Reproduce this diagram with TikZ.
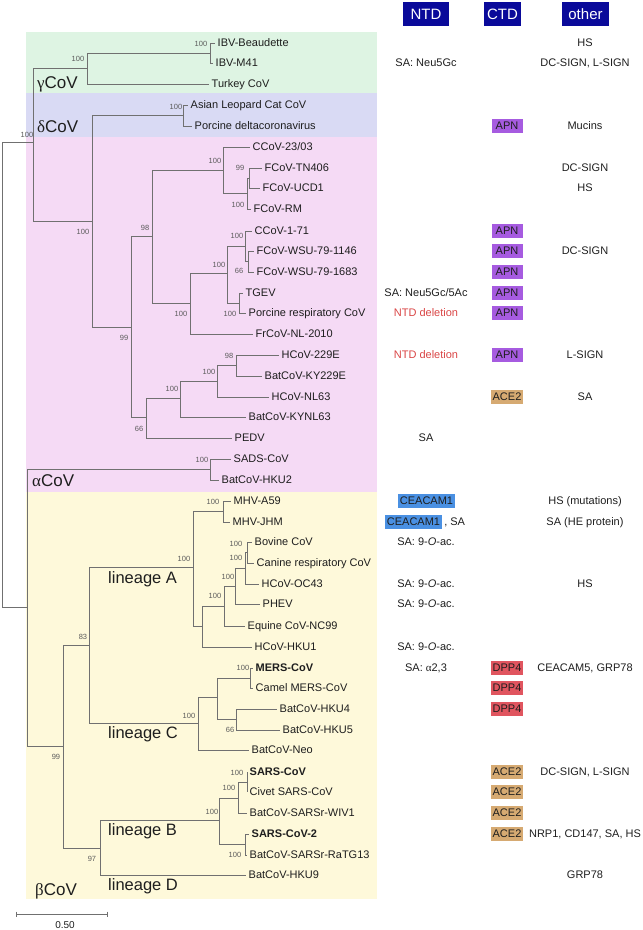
\documentclass[tikz,border=0pt]{standalone}
\usepackage{fontspec}
\setmainfont{Liberation Sans}
\newfontfamily\grk{Liberation Serif}
\usetikzlibrary{positioning}
\definecolor{branch}{HTML}{707070}
\definecolor{txt}{HTML}{1E1E1E}
\definecolor{supp}{HTML}{5A5A5A}
\definecolor{gbox}{HTML}{DEF4E3}
\definecolor{dbox}{HTML}{D9DAF4}
\definecolor{pbox}{HTML}{F5DAF5}
\definecolor{ybox}{HTML}{FEF9DA}
\definecolor{navy}{HTML}{0A0A9A}
\definecolor{apnc}{HTML}{A65BE0}
\definecolor{acec}{HTML}{D6AA72}
\definecolor{dppc}{HTML}{E0555F}
\definecolor{ceac}{HTML}{4A90E2}
\definecolor{delc}{HTML}{D94545}

\begin{document}
\begin{tikzpicture}[x=1pt,y=-1pt,
  br/.style={every edge/.style={draw=branch,line width=0.7pt,to path={|- (\tikztotarget)}}},
  leaf/.style={anchor=west,inner xsep=2.5pt,inner ysep=1pt,text height=7.9pt,text depth=0pt,font=\fontsize{11}{13}\selectfont,text=txt},
  bold/.style={font=\fontsize{11}{13}\selectfont\bfseries},
  bs/.style={inner sep=0pt,font=\fontsize{7.5}{8}\selectfont,text=supp},
  clade/.style={anchor=base west,inner sep=0pt,font=\fontsize{17}{19}\selectfont,text=txt},
  lin/.style={anchor=base west,inner sep=0pt,font=\fontsize{16.5}{18}\selectfont,text=txt},
  hdr/.style={fill=navy,text=white,font=\fontsize{15}{17}\selectfont,minimum height=24pt,inner sep=0pt},
  col/.style={inner sep=1.8pt,text height=7.9pt,text depth=0pt,font=\fontsize{11}{13}\selectfont,text=txt},
  ctd/.style={col,inner xsep=1.5pt,inner ysep=3pt,minimum width=31pt},
  apn/.style={ctd,fill=apnc},
  ace/.style={ctd,fill=acec},
  dpp/.style={ctd,fill=dppc},
  cea/.style={col,fill=ceac,inner xsep=2pt,inner ysep=3pt}]

  \useasboundingbox (0,0) rectangle (643,930);

  \fill[gbox] (26,32) rectangle (377,93);
  \fill[dbox] (26,93) rectangle (377,137);
  \fill[pbox] (26,137) rectangle (377,492);
  \fill[ybox] (26,492) rectangle (377,899);

  \node[clade] (gam) at (37,88) {{\grk γ}CoV};
  \node[clade] (del) at (37,132) {{\grk δ}CoV};
  \node[clade] (alp) at (32,486) {{\grk α}CoV};
  \node[clade] (bet) at (35,895) {{\grk β}CoV};
  \node[lin] (linA) at (108,583) {lineage A};
  \node[lin] (linC) at (108,738) {lineage C};
  \node[lin] (linB) at (108,835) {lineage B};
  \node[lin] (linD) at (108,890) {lineage D};

  \node[leaf] (ibvB) at (215,43) {IBV-Beaudette};
  \node[leaf] (ibvM) at (213,63) {IBV-M41};
  \node[leaf] (tky) at (209,84) {Turkey CoV};
  \node[leaf] (alc) at (188,105) {Asian Leopard Cat CoV};
  \node[leaf] (pdc) at (192,126) {Porcine deltacoronavirus};
  \node[leaf] (cc23) at (250,147) {CCoV-23/03};
  \node[leaf] (tn) at (262,168) {FCoV-TN406};
  \node[leaf] (ucd) at (260,188) {FCoV-UCD1};
  \node[leaf] (rm) at (251,209) {FCoV-RM};
  \node[leaf] (cc171) at (252,231) {CCoV-1-71};
  \node[leaf] (wsuA) at (254,251) {FCoV-WSU-79-1146};
  \node[leaf] (wsuB) at (254,272) {FCoV-WSU-79-1683};
  \node[leaf] (tgev) at (243,293) {TGEV};
  \node[leaf] (prcv) at (246,313) {Porcine respiratory CoV};
  \node[leaf] (frcv) at (253,334) {FrCoV-NL-2010};
  \node[leaf] (e229) at (279,355) {HCoV-229E};
  \node[leaf] (ky229) at (262,376) {BatCoV-KY229E};
  \node[leaf] (nl63) at (269,397) {HCoV-NL63};
  \node[leaf] (kynl) at (246,417) {BatCoV-KYNL63};
  \node[leaf] (pedv) at (232,438) {PEDV};
  \node[leaf] (sads) at (231,459) {SADS-CoV};
  \node[leaf] (hku2) at (219,480) {BatCoV-HKU2};
  \node[leaf] (a59) at (231,501) {MHV-A59};
  \node[leaf] (jhm) at (230,522) {MHV-JHM};
  \node[leaf] (bov) at (252,542) {Bovine CoV};
  \node[leaf] (crcv) at (254,563) {Canine respiratory CoV};
  \node[leaf] (oc43) at (259,584) {HCoV-OC43};
  \node[leaf] (phev) at (260,604) {PHEV};
  \node[leaf] (eq) at (245,626) {Equine CoV-NC99};
  \node[leaf] (hku1) at (252,647) {HCoV-HKU1};
  \node[leaf,bold] (mers) at (253,668) {MERS-CoV};
  \node[leaf] (cmers) at (253,688) {Camel MERS-CoV};
  \node[leaf] (hku4) at (277,709) {BatCoV-HKU4};
  \node[leaf] (hku5) at (280,730) {BatCoV-HKU5};
  \node[leaf] (neo) at (249,750) {BatCoV-Neo};
  \node[leaf,bold] (sars) at (247,772) {SARS-CoV};
  \node[leaf] (civ) at (247,792) {Civet SARS-CoV};
  \node[leaf] (wiv) at (247,813) {BatCoV-SARSr-WIV1};
  \node[leaf,bold] (sars2) at (249,834) {SARS-CoV-2};
  \node[leaf] (ratg) at (247,855) {BatCoV-SARSr-RaTG13};
  \node[leaf] (hku9) at (246,875) {BatCoV-HKU9};

  \coordinate (root) at (2,374);
  \coordinate (nGD) at (33,142);
  \coordinate (nGam) at (87,68);
  \coordinate (nIBV) at (210,53);
  \coordinate (nDA) at (92,221);
  \coordinate (nDel) at (183,115);
  \coordinate (nAlp) at (131,327);
  \coordinate (n98) at (152,236);
  \coordinate (nC23) at (223,170);
  \coordinate (nRM) at (247,193);
  \coordinate (nTN) at (249,178);
  \coordinate (nTG) at (190,303);
  \coordinate (n227) at (227,273);
  \coordinate (n245) at (245,246);
  \coordinate (nWSU) at (248,261);
  \coordinate (nTGEV) at (239,303);
  \coordinate (n66) at (146,417);
  \coordinate (n180) at (180,398);
  \coordinate (n217) at (217,381);
  \coordinate (n229) at (236,365);
  \coordinate (nSB) at (27,607);
  \coordinate (nSADS) at (210,469);
  \coordinate (nBeta) at (63,746);
  \coordinate (n83) at (89,645);
  \coordinate (nLA) at (193,567);
  \coordinate (nMHV) at (223,511);
  \coordinate (nH) at (202,626);
  \coordinate (nE) at (224,606);
  \coordinate (nX) at (235,586);
  \coordinate (nBCO) at (245,568);
  \coordinate (nBC) at (247,552);
  \coordinate (nLC) at (198,723);
  \coordinate (nMC) at (217,697);
  \coordinate (nMERS) at (250,678);
  \coordinate (nHKU) at (236,719);
  \coordinate (nBD) at (100,848);
  \coordinate (nLB) at (219,820);
  \coordinate (nSG) at (238,798);
  \coordinate (nSC) at (247,782);
  \coordinate (nS2) at (245,844);

  \path[br] (root) edge (nGD) edge (nSB)
    (nGD) edge (nGam) edge (nDA)
    (nGam) edge (nIBV) edge (tky)
    (nIBV) edge (ibvB) edge (ibvM)
    (nDA) edge (nDel) edge (nAlp)
    (nDel) edge (alc) edge (pdc)
    (nAlp) edge (n98) edge (n66)
    (n98) edge (nC23) edge (nTG)
    (nC23) edge (cc23) edge (nRM)
    (nRM) edge (nTN) edge (rm)
    (nTN) edge (tn) edge (ucd)
    (nTG) edge (n227) edge (frcv)
    (n227) edge (n245) edge (nTGEV)
    (n245) edge (cc171) edge (nWSU)
    (nWSU) edge (wsuA) edge (wsuB)
    (nTGEV) edge (tgev) edge (prcv)
    (n66) edge (n180) edge (pedv)
    (n180) edge (n217) edge (kynl)
    (n217) edge (n229) edge (nl63)
    (n229) edge (e229) edge (ky229)
    (nSB) edge (nSADS) edge (nBeta)
    (nSADS) edge (sads) edge (hku2)
    (nBeta) edge (n83) edge (nBD)
    (n83) edge (nLA) edge (nLC)
    (nLA) edge (nMHV) edge (nH)
    (nMHV) edge (a59) edge (jhm)
    (nH) edge (nE) edge (hku1)
    (nE) edge (nX) edge (eq)
    (nX) edge (nBCO) edge (phev)
    (nBCO) edge (nBC) edge (oc43)
    (nBC) edge (bov) edge (crcv)
    (nLC) edge (nMC) edge (neo)
    (nMC) edge (nMERS) edge (nHKU)
    (nMERS) edge (mers) edge (cmers)
    (nHKU) edge (hku4) edge (hku5)
    (nBD) edge (nLB) edge (hku9)
    (nLB) edge (nSG) edge (nS2)
    (nSG) edge (nSC) edge (wiv)
    (nSC) edge (sars) edge (civ)
    (nS2) edge (sars2) edge (ratg);

  \node[bs] (s1) at (201,44) {100};
  \node[bs] (s2) at (78,59) {100};
  \node[bs] (s3) at (27,135) {100};
  \node[bs] (s4) at (176,107) {100};
  \node[bs] (s5) at (215,161) {100};
  \node[bs] (s6) at (240,168) {99};
  \node[bs] (s7) at (238,205) {100};
  \node[bs] (s8) at (83,232) {100};
  \node[bs] (s9) at (145,228) {98};
  \node[bs] (s10) at (237,236) {100};
  \node[bs] (s11) at (219,265) {100};
  \node[bs] (s12) at (239,271) {66};
  \node[bs] (s13) at (181,314) {100};
  \node[bs] (s14) at (230,314) {100};
  \node[bs] (s15) at (124,338) {99};
  \node[bs] (s16) at (229,356) {98};
  \node[bs] (s17) at (209,372) {100};
  \node[bs] (s18) at (172,389) {100};
  \node[bs] (s19) at (139,429) {66};
  \node[bs] (s20) at (202,460) {100};
  \node[bs] (s21) at (213,502) {100};
  \node[bs] (s22) at (236,544) {100};
  \node[bs] (s23) at (184,559) {100};
  \node[bs] (s24) at (236,558) {100};
  \node[bs] (s25) at (228,577) {100};
  \node[bs] (s26) at (215,596) {100};
  \node[bs] (s27) at (83,637) {83};
  \node[bs] (s28) at (243,668) {100};
  \node[bs] (s29) at (189,716) {100};
  \node[bs] (s30) at (230,730) {66};
  \node[bs] (s31) at (56,757) {99};
  \node[bs] (s32) at (237,773) {100};
  \node[bs] (s33) at (229,788) {100};
  \node[bs] (s34) at (212,812) {100};
  \node[bs] (s35) at (92,859) {97};
  \node[bs] (s36) at (235,855) {100};

  \coordinate (sb1) at (16,914);
  \coordinate (sb2) at (107,914);
  \draw[branch,line width=0.7pt] (sb1) -- (sb2)
    (sb1) ++(0,-2.5) -- ++(0,5) (sb2) ++(0,-2.5) -- ++(0,5);
  \node[font=\fontsize{10}{12}\selectfont,text=txt] (sbl) at (65,925) {0.50};

  \node[hdr,minimum width=46pt] (hNTD) at (426,14) {NTD};
  \node[hdr,minimum width=37pt] (hCTD) at (502.5,14) {CTD};
  \node[hdr,minimum width=47pt] (hOth) at (585.5,14) {other};

  \node[col] (ntd1) at (426,63) {SA: Neu5Gc};
  \node[col] (ntd2) at (426,293) {SA: Neu5Gc/5Ac};
  \node[col,text=delc] (ntd3) at (426,313) {NTD deletion};
  \node[col,text=delc] (ntd4) at (426,355) {NTD deletion};
  \node[col] (ntd5) at (426,438) {SA};
  \node[cea] (ntd6) at (426.5,501) {CEACAM1};
  \node[cea] (ntd7) at (413.5,522) {CEACAM1};
  \node[col,right=0pt of ntd7] (ntd7b) {, SA};
  \node[col] (ntd8) at (426,542) {SA: 9-\textit{O}-ac.};
  \node[col] (ntd9) at (426,584) {SA: 9-\textit{O}-ac.};
  \node[col] (ntd10) at (426,604) {SA: 9-\textit{O}-ac.};
  \node[col] (ntd11) at (426,647) {SA: 9-\textit{O}-ac.};
  \node[col] (ntd12) at (426,668) {SA: {\grk α}2,3};

  \node[apn] (ctd1) at (507,126) {APN};
  \node[apn] (ctd2) at (507,231) {APN};
  \node[apn] (ctd3) at (507,251) {APN};
  \node[apn] (ctd4) at (507,272) {APN};
  \node[apn] (ctd5) at (507,293) {APN};
  \node[apn] (ctd6) at (507,313) {APN};
  \node[apn] (ctd7) at (507,355) {APN};
  \node[ace] (ctd8) at (507,397) {ACE2};
  \node[dpp] (ctd9) at (507,668) {DPP4};
  \node[dpp] (ctd10) at (507,688) {DPP4};
  \node[dpp] (ctd11) at (507,709) {DPP4};
  \node[ace] (ctd12) at (507,772) {ACE2};
  \node[ace] (ctd13) at (507,792) {ACE2};
  \node[ace] (ctd14) at (507,813) {ACE2};
  \node[ace] (ctd15) at (507,834) {ACE2};

  \node[col] (oth1) at (585,43) {HS};
  \node[col] (oth2) at (585,63) {DC-SIGN, L-SIGN};
  \node[col] (oth3) at (585,126) {Mucins};
  \node[col] (oth4) at (585,168) {DC-SIGN};
  \node[col] (oth5) at (585,188) {HS};
  \node[col] (oth6) at (585,251) {DC-SIGN};
  \node[col] (oth7) at (585,355) {L-SIGN};
  \node[col] (oth8) at (585,397) {SA};
  \node[col] (oth9) at (585,501) {HS (mutations)};
  \node[col] (oth10) at (585,522) {SA (HE protein)};
  \node[col] (oth11) at (585,584) {HS};
  \node[col] (oth12) at (585,668) {CEACAM5, GRP78};
  \node[col] (oth13) at (585,772) {DC-SIGN, L-SIGN};
  \node[col] (oth14) at (585,834) {NRP1, CD147, SA, HS};
  \node[col] (oth15) at (585,875) {GRP78};

\end{tikzpicture}
\end{document}
